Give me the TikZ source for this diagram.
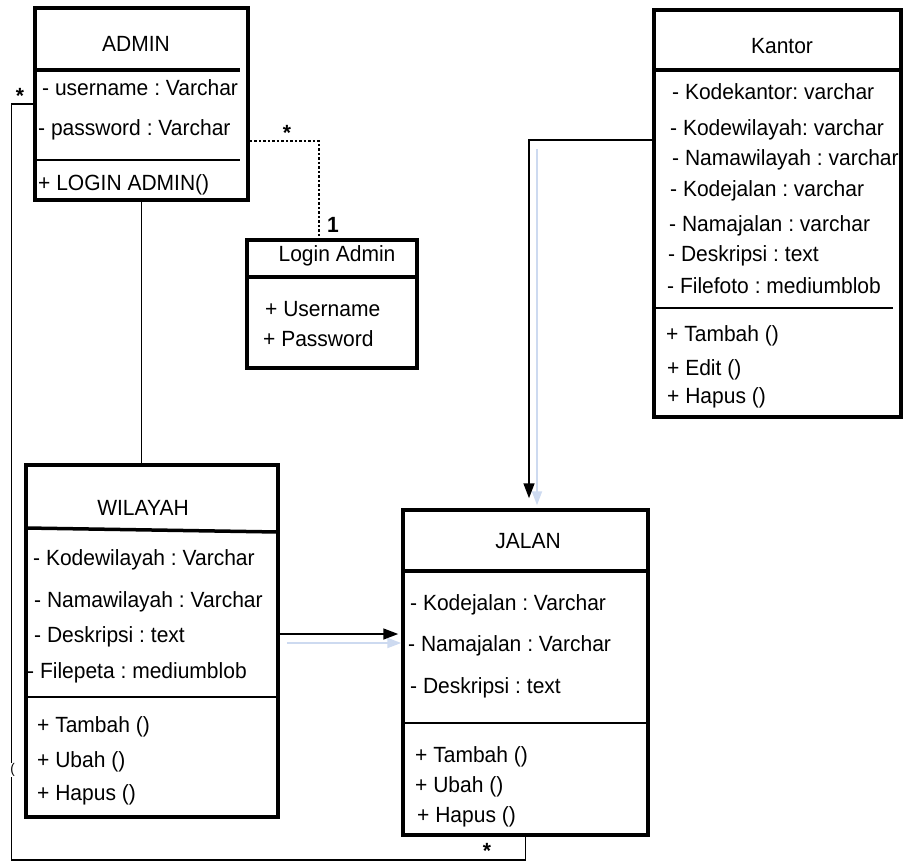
\documentclass[tikz,border=0pt]{standalone}
\usepackage{fontspec}
\setmainfont[FakeStretch=0.955]{Liberation Sans}
\usetikzlibrary{arrows.meta}
\definecolor{ghostblue}{RGB}{205,218,240}
\tikzset{
  classbox/.style={draw, line width=3.5pt, inner sep=0pt},
  septhick/.style={line width=3.5pt},
  septhin/.style={line width=1.3pt},
  txt/.style={anchor=base west, inner sep=0pt, font=\fontsize{22}{26}\selectfont},
  ttl/.style={anchor=base, inner sep=0pt, font=\fontsize{22}{26}\selectfont},
  mult/.style={anchor=base, inner sep=0pt, font=\fontsize{22}{26}\selectfont\bfseries},
  link/.style={line width=1.6pt},
  dotlink/.style={line width=1.6pt, dash pattern=on 2.5pt off 2pt},
  arr/.style={link, -{Triangle[length=15pt,width=11pt]}},
  ghost/.style={line width=2pt, draw=ghostblue, -{Triangle[length=14pt,width=10pt]}},
}
\frenchspacing
\begin{document}
\begin{tikzpicture}[x=1pt, y=-1pt]
\useasboundingbox (0,0) rectangle (903,862);

% ---------- class boxes ----------
\node[classbox, minimum width=213pt, minimum height=192pt] (admin)   at (141.5,104)   {};
\node[classbox, minimum width=170pt, minimum height=128pt] (login)   at (332,304)     {};
\node[classbox, minimum width=247pt, minimum height=407pt] (kantor)  at (777.5,213.5) {};
\node[classbox, minimum width=252pt, minimum height=352pt] (wilayah) at (152,641)     {};
\node[classbox, minimum width=245pt, minimum height=325pt] (jalan)   at (525.5,672.5) {};

% ---------- compartment separators ----------
\draw[septhick] (35,70) -- (240,70);
\draw[septhin]  (35,160) -- (240,160);
\draw[septhick] (247,277) -- (417,277);
\draw[septhick] (654,70) -- (901,70);
\draw[septhin]  (654,308) -- (893,308);
\draw[septhick] (26,528) -- (278,532);
\draw[septhin]  (26,697) -- (278,697);
\draw[septhick] (403,571) -- (648,571);
\draw[septhin]  (403,723) -- (648,723);

% ---------- ADMIN ----------
\node[ttl] (adminT) at (136,51) {ADMIN};
\node[txt] (adminA1) at (42,95)  {- username : Varchar};
\node[txt] (adminA2) at (38,135) {- password : Varchar};
\node[txt] (adminM1) at (38,190) {+ LOGIN ADMIN()};

% ---------- Login Admin ----------
\node[ttl] (loginT) at (337,261) {Login Admin};
\node[txt] (loginA1) at (265,316) {+ Username};
\node[txt] (loginA2) at (263,346) {+ Password};

% ---------- Kantor ----------
\node[ttl] (kantorT) at (782,53) {Kantor};
\node[txt] (kantorA1) at (672,99)  {- Kodekantor: varchar};
\node[txt] (kantorA2) at (670,135) {- Kodewilayah: varchar};
\node[txt] (kantorA3) at (672,165) {- Namawilayah : varchar};
\node[txt] (kantorA4) at (670,196) {- Kodejalan : varchar};
\node[txt] (kantorA5) at (669,231) {- Namajalan : varchar};
\node[txt] (kantorA6) at (668,261) {- Deskripsi : text};
\node[txt] (kantorA7) at (667,293) {- Filefoto : mediumblob};
\node[txt] (kantorM1) at (666,341) {+ Tambah ()};
\node[txt] (kantorM2) at (667,375) {+ Edit ()};
\node[txt] (kantorM3) at (667,403) {+ Hapus ()};

% ---------- WILAYAH ----------
\node[ttl] (wilayahT) at (143,515) {WILAYAH};
\node[txt] (wilayahA1) at (33,565) {- Kodewilayah : Varchar};
\node[txt] (wilayahA2) at (34,607) {- Namawilayah : Varchar};
\node[txt] (wilayahA3) at (34,642) {- Deskripsi : text};
\node[txt] (wilayahA4) at (27,678) {- Filepeta : mediumblob};
\node[txt] (wilayahM1) at (37,732) {+ Tambah ()};
\node[txt] (wilayahM2) at (37,767) {+ Ubah ()};
\node[txt] (wilayahM3) at (37,800) {+ Hapus ()};

% ---------- JALAN ----------
\node[ttl] (jalanT) at (528,548) {JALAN};
\node[txt] (jalanA1) at (410,610) {- Kodejalan : Varchar};
\node[txt] (jalanA2) at (408,651) {- Namajalan : Varchar};
\node[txt] (jalanA3) at (410,693) {- Deskripsi : text};
\node[txt] (jalanM1) at (415,762) {+ Tambah ()};
\node[txt] (jalanM2) at (415,792) {+ Ubah ()};
\node[txt] (jalanM3) at (417,822) {+ Hapus ()};

% ---------- connectors ----------
% ADMIN -- WILAYAH
\draw[link] (admin.south) -- (admin.south |- wilayah.north);

% ADMIN ... Login Admin
\draw[dotlink] (admin.east |- 0,141) -| ([xshift=-13pt]login.north);
\node[mult] (m1) at (287,140) {*};
\node[mult] (m2) at (333,232) {1};

% ADMIN -- JALAN (around the left and bottom)
\coordinate (lt) at (11.5,104);
\coordinate (lb) at (11.5,860);
\draw[link] (admin.west) -- (lt) -- (lb) -| (jalan.south);
\node[mult] (m3) at (20,103) {*};
\node[mult] (m4) at (487,858) {*};
\node[inner sep=0.5pt, fill=white, font=\fontsize{14}{16}\selectfont] (paren) at (12.5,770) {(};

% Kantor -> JALAN
\draw[ghost, shorten <=9pt, shorten >=3pt] ([xshift=11.5pt]jalan.north |- kantor.west |- 0,140) -- ([xshift=11.5pt]jalan.north);
\draw[arr, shorten >=10pt] (kantor.west |- 0,140) -| ([xshift=3.5pt]jalan.north);

% WILAYAH -> JALAN
\draw[ghost, shorten <=7pt, shorten >=0pt] (wilayah.east |- 0,643) -- (jalan.west |- 0,643);
\draw[arr, shorten >=3pt] (wilayah.east |- 0,634) -- (jalan.west |- 0,634);
\end{tikzpicture}
\end{document}
